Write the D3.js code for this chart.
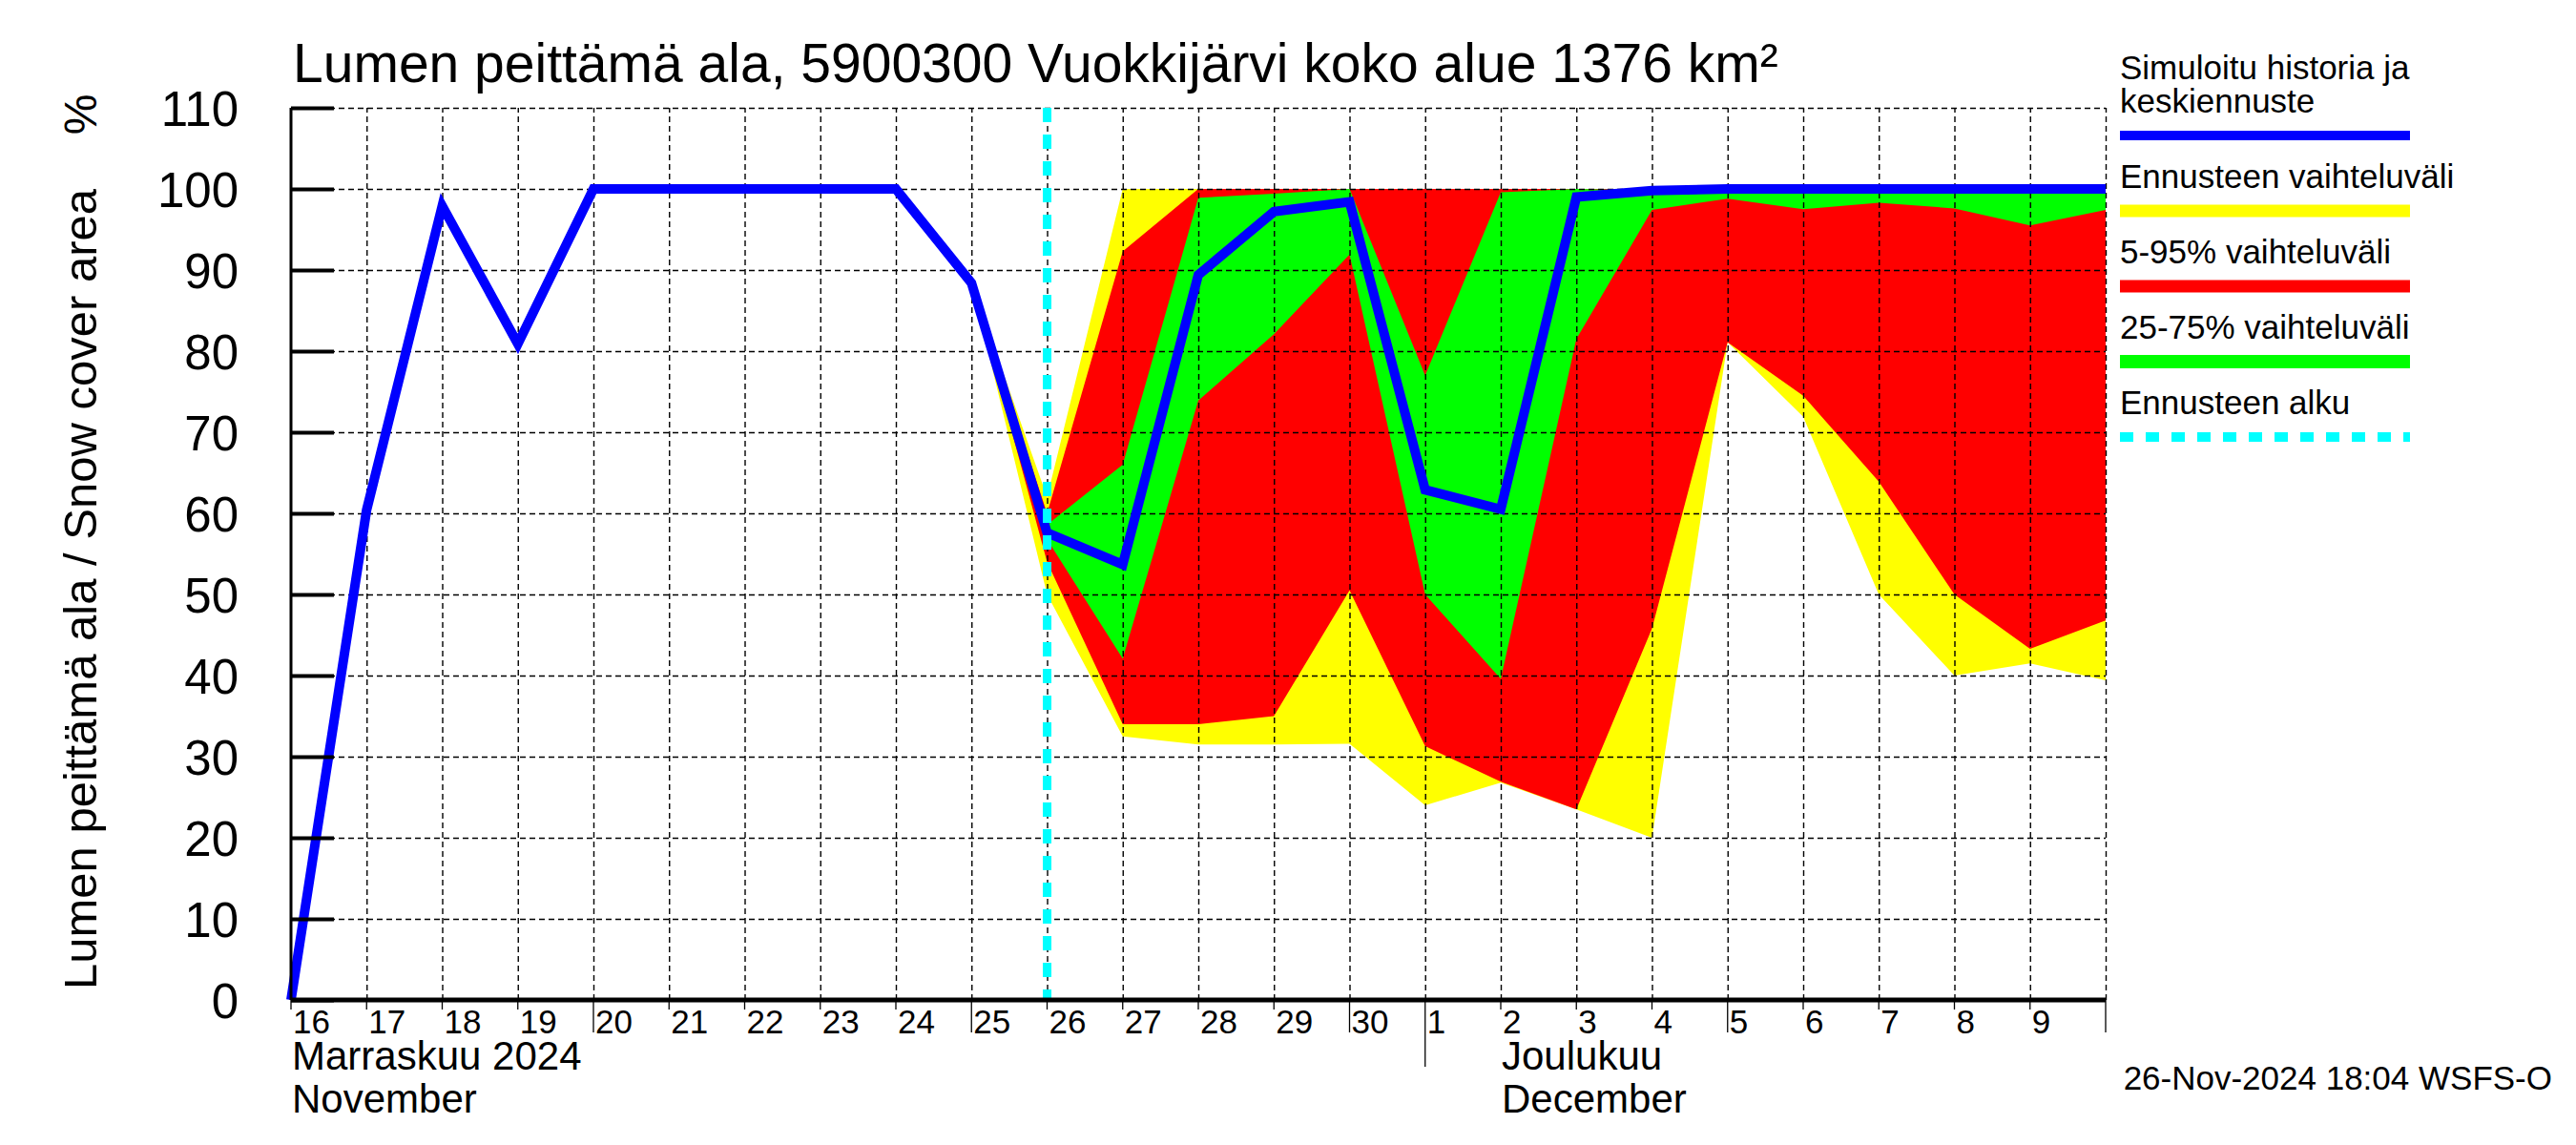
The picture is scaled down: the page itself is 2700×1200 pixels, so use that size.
<!DOCTYPE html>
<head>
    <meta charset="utf-8">
    <title>Lumen peittämä ala</title>
    <script src="https://d3js.org/d3.v7.min.js"></script>
    <style>
        body { margin: 0; background: #fff; }
        svg text { font-family: "Liberation Sans", Arial, sans-serif; fill: #000; }
        .grid line { stroke: #000; stroke-width: 1.4; stroke-dasharray: 6,4; }
        .grid path { display: none; }
    </style>
</head>
<body>
<svg id="chart" width="2700" height="1200"></svg>
<script>

// mean forecast / simulated history, daily from 16 Nov 2024 to 10 Dec 2024
var meanStart = "2024-11-16";
var meanValues = [0, 60.4, 97.9, 80.9, 100, 100, 100, 100, 100, 88.4, 57.6, 53.7, 89.4, 97.2, 98.4,
                  62.9, 60.5, 99.0, 99.8, 100, 100, 100, 100, 100, 100];

// forecast bands, daily from 25 Nov 2024 to 10 Dec 2024
var bandStart = "2024-11-25";
var minValues = [88.4, 50, 32.5, 31.5, 31.5, 31.6, 24.0, 26.8, 23.5, 20.0, 81.1, 71.9, 50.0, 40.0, 41.5, 39.4];
var maxValues = [88.4, 62, 100, 100, 100, 100, 100, 100, 100, 100, 100, 100, 100, 100, 100, 100];
var p05Values = [88.4, 54, 34.0, 34.0, 35.0, 50.5, 31.3, 26.9, 23.5, 45.8, 81.1, 74.5, 63.9, 50.0, 43.3, 46.8];
var p95Values = [88.4, 60, 92.3, 100, 100, 100, 100, 100, 100, 100, 100, 100, 100, 100, 100, 100];
var p25Values = [88.4, 56.8, 42.1, 73.9, 82.1, 91.9, 50.0, 39.6, 81.5, 97.4, 98.8, 97.5, 98.3, 97.6, 95.5, 97.4];
var p75Values = [88.4, 58.6, 66.0, 98.9, 99.4, 100, 77.0, 99.6, 100, 99.8, 100, 100, 100, 100, 100, 100];

var forecastStart = "2024-11-26";
var yTicks = [0, 10, 20, 30, 40, 50, 60, 70, 80, 90, 100, 110];
var monthLabels = [
    {date: "2024-11-16", fi: "Marraskuu 2024", en: "November"},
    {date: "2024-12-02", fi: "Joulukuu", en: "December"}
];
var legendItems = [
    {label: ["Simuloitu historia ja", "keskiennuste"], color: "#0000ff", width: 10},
    {label: ["Ennusteen vaihteluväli"], color: "#ffff00", width: 13},
    {label: ["5-95% vaihteluväli"], color: "#ff0000", width: 13},
    {label: ["25-75% vaihteluväli"], color: "#00ff00", width: 14},
    {label: ["Ennusteen alku"], color: "#00ffff", width: 10, dash: "14,13"}
];
var title = "Lumen peittämä ala, 5900300 Vuokkijärvi koko alue 1376 km²";
var yTitle = "Lumen peittämä ala / Snow cover area";
var stamp = "26-Nov-2024 18:04 WSFS-O";

var parse = d3.timeParse("%Y-%m-%d");
var plotLeft = 305, plotRight = 2207, plotTop = 113, plotBottom = 1048;

var x = d3.scaleTime()
    .domain([parse("2024-11-16"), parse("2024-12-10")])
    .range([plotLeft, plotRight]);
var y = d3.scaleLinear()
    .domain([0, 110])
    .range([plotBottom, plotTop]);

function series(start, vals) {
    var d0 = parse(start);
    return vals.map(function(v, i) { return {date: d3.timeDay.offset(d0, i), v: v}; });
}
function bandData(lo, hi) {
    var d0 = parse(bandStart);
    return lo.map(function(v, i) { return {date: d3.timeDay.offset(d0, i), lo: v, hi: hi[i]}; });
}

var svg = d3.select("#chart");
svg.append("rect").attr("width", 2700).attr("height", 1200).attr("fill", "#fff");

var area = d3.area()
    .x(function(d) { return x(d.date); })
    .y0(function(d) { return y(d.lo); })
    .y1(function(d) { return y(d.hi); });

svg.append("path").datum(bandData(minValues, maxValues)).attr("d", area).attr("fill", "#ffff00");
svg.append("path").datum(bandData(p05Values, p95Values)).attr("d", area).attr("fill", "#ff0000");
svg.append("path").datum(bandData(p25Values, p75Values)).attr("d", area).attr("fill", "#00ff00");

// grid
svg.append("g").attr("class", "grid")
    .attr("transform", "translate(0," + plotBottom + ")")
    .call(d3.axisBottom(x).ticks(d3.timeDay.every(1)).tickSize(-(plotBottom - plotTop)).tickFormat(""))
    .selectAll(".tick").filter(function(d) { return +d === +x.domain()[0]; }).remove();
svg.append("g").attr("class", "grid")
    .attr("transform", "translate(" + plotLeft + ",0)")
    .call(d3.axisLeft(y).tickValues(yTicks.slice(1)).tickSize(-(plotRight - plotLeft)).tickFormat(""));

// mean line
var line = d3.line()
    .x(function(d) { return x(d.date); })
    .y(function(d) { return y(d.v); });
svg.append("path").datum(series(meanStart, meanValues))
    .attr("d", line)
    .attr("fill", "none")
    .attr("stroke", "#0000ff")
    .attr("stroke-width", 10)
    .attr("stroke-linejoin", "miter");

// forecast start
svg.append("line")
    .attr("x1", x(parse(forecastStart))).attr("x2", x(parse(forecastStart)))
    .attr("y1", plotTop).attr("y2", plotBottom)
    .attr("stroke", "#00ffff").attr("stroke-width", 9)
    .attr("stroke-dasharray", "15,13");

// y axis
var yAxis = svg.append("g")
    .attr("transform", "translate(" + plotLeft + ",0)")
    .call(d3.axisLeft(y).tickValues(yTicks).tickSize(-45).tickPadding(55));
yAxis.select(".domain").remove();
yAxis.selectAll(".tick line").attr("stroke", "#000").attr("stroke-width", 4);
yAxis.selectAll(".tick text").attr("font-size", 51).attr("dy", "0.36em")
    .style("font-family", "'Liberation Sans', Arial, sans-serif");
svg.append("line").attr("x1", plotLeft).attr("x2", plotLeft).attr("y1", plotTop).attr("y2", plotBottom)
    .attr("stroke", "#000").attr("stroke-width", 3);

// x axis
var days = d3.timeDay.range(x.domain()[0], d3.timeDay.offset(x.domain()[1], 1));
svg.selectAll("line.xtick").data(days).enter().append("line")
    .attr("class", "xtick")
    .attr("x1", function(d) { return x(d); })
    .attr("x2", function(d) { return x(d); })
    .attr("y1", plotBottom)
    .attr("y2", function(d) {
        if (d.getDate() === 1) return plotBottom + 70;
        if (d.getDate() % 5 === 0) return plotBottom + 34;
        return plotBottom + 10;
    })
    .attr("stroke", "#000").attr("stroke-width", 1.3);
svg.append("line").attr("x1", plotLeft).attr("x2", plotRight).attr("y1", plotBottom).attr("y2", plotBottom)
    .attr("stroke", "#000").attr("stroke-width", 5);

svg.selectAll("text.day").data(days.slice(0, -1)).enter().append("text")
    .attr("class", "day")
    .attr("x", function(d) { return x(d) + 2; })
    .attr("y", plotBottom + 35)
    .attr("font-size", 35)
    .text(function(d) { return d.getDate(); });

monthLabels.forEach(function(m) {
    svg.append("text").attr("x", x(parse(m.date)) + 1).attr("y", plotBottom + 73)
        .attr("font-size", 42).text(m.fi);
    svg.append("text").attr("x", x(parse(m.date)) + 1).attr("y", plotBottom + 118)
        .attr("font-size", 42).text(m.en);
});

// titles
svg.append("text").attr("x", 307).attr("y", 86).attr("font-size", 57).text(title);
svg.append("text")
    .attr("transform", "translate(101," + ((plotTop + plotBottom) / 2 + 37) + ") rotate(-90)")
    .attr("text-anchor", "middle")
    .attr("font-size", 49)
    .text(yTitle);
svg.append("text")
    .attr("transform", "translate(101,120) rotate(-90)")
    .attr("text-anchor", "middle")
    .attr("font-size", 48)
    .text("%");
svg.append("text").attr("x", 2675).attr("y", 1142).attr("text-anchor", "end")
    .attr("font-size", 35).text(stamp);

// legend
var ly = 83;
legendItems.forEach(function(item) {
    item.label.forEach(function(t, i) {
        svg.append("text").attr("x", 2222).attr("y", ly + i * 35).attr("font-size", 35).text(t);
    });
    var lineY = ly + (item.label.length - 1) * 35 + 24;
    svg.append("line")
        .attr("x1", 2222).attr("x2", 2526)
        .attr("y1", lineY).attr("y2", lineY)
        .attr("stroke", item.color).attr("stroke-width", item.width)
        .attr("stroke-dasharray", item.dash || null);
    ly = lineY + 55;
});

</script>
</body>
